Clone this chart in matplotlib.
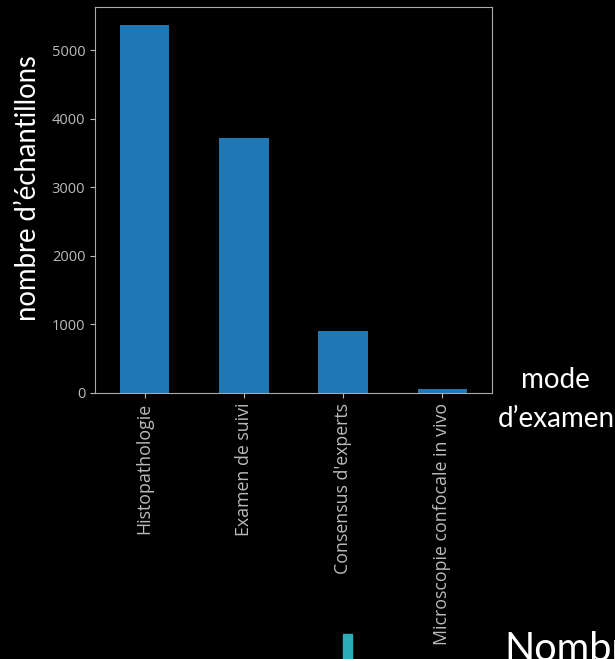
import matplotlib
matplotlib.use("Agg")
import matplotlib.pyplot as plt
from matplotlib.patches import Rectangle

categories = ["Histopathologie", "Examen de suivi", "Consensus d'experts",
              "Microscopie confocale in vivo"]
counts = [5360, 3720, 908, 58]
yticks = [0, 1000, 2000, 3000, 4000, 5000]

W, H = 615, 659
fig = plt.figure(figsize=(W / 100, H / 100), dpi=100, facecolor="black")
ax = fig.add_axes([95 / W, 1 - 393 / H, (492 - 95) / W, (393 - 7) / H], facecolor="black")

x = range(len(categories))
ax.bar(x, counts, width=0.5, color="#1f77b4")
ax.set_xlim(-0.5, len(categories) - 0.5)
ax.set_ylim(0, max(counts) * 1.05)
ax.set_xticks(list(x))
ax.set_xticklabels(categories, rotation=90, family="Open Sans", fontsize=12.8, color="#d0d0d0")
ax.set_yticks(yticks)
ax.set_yticklabels([str(t) for t in yticks], family="Open Sans", fontsize=10.5, color="#d0d0d0")
ax.tick_params(colors="#bbbbbb", length=3.5)
for s in ax.spines.values():
    s.set_color("#aaaaaa")

fig.text(28 / W, 1 - 188 / H, "nombre d\u2019\u00e9chantillons", rotation=90, ha="center",
         va="center", family="Lato", fontsize=19.8, color="white")
fig.text(555 / W, 1 - 388 / H, "mode", ha="center", va="baseline",
         family="Lato", fontsize=20, color="white")
fig.text(556 / W, 1 - 427 / H, "d\u2019examen", ha="center", va="baseline",
         family="Lato", fontsize=20, color="white")
fig.text(504 / W, 1 - 661 / H, "Nombre", ha="left", va="baseline",
         family="Lato", fontsize=28.5, color="white")
fig.patches.append(Rectangle((343 / W, 0), 9 / W, 25 / H, transform=fig.transFigure,
                             color="#2aadb8"))

fig.savefig("out.png", dpi=100, facecolor="black")
